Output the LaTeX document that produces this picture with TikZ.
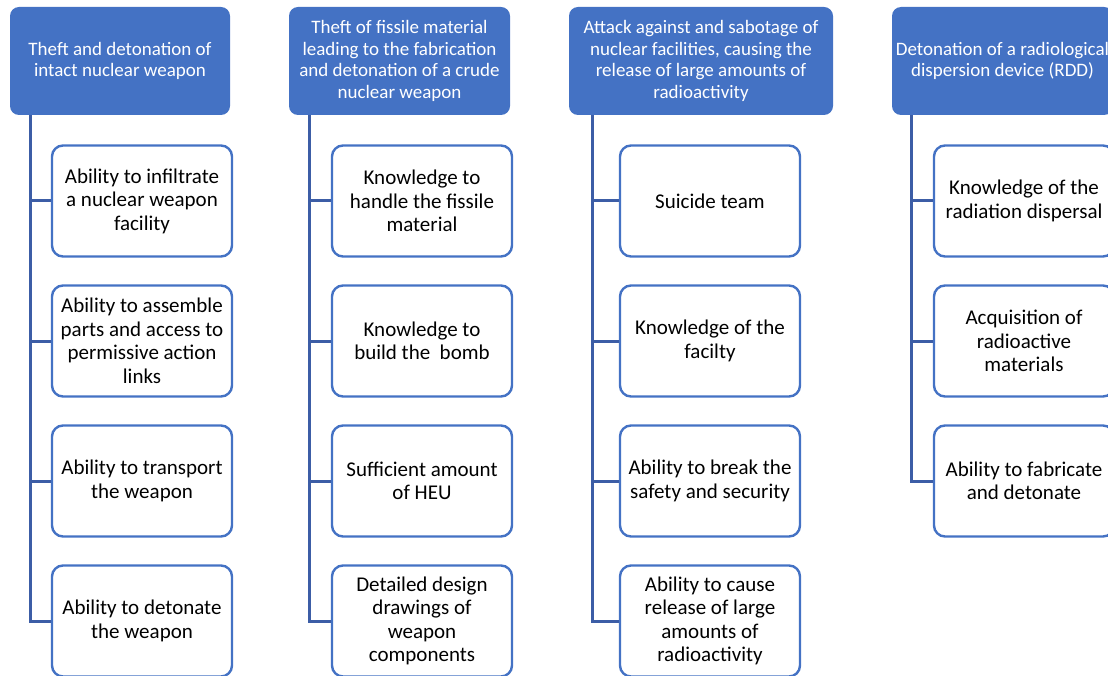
\documentclass[tikz,border=0pt]{standalone}
\usepackage{fontspec}
\setmainfont{Carlito}
\definecolor{hdrblue}{HTML}{4472C4}
\definecolor{boxblue}{HTML}{4472C4}
\definecolor{linkblue}{HTML}{3C5DA6}
\tikzset{
  hdr/.style={draw=none, fill=hdrblue, rounded corners=9pt, text=white, align=center,
    minimum height=108pt, inner sep=0pt, font=\fontsize{19}{21.7}\selectfont},
  item/.style={draw=boxblue, line width=2.4pt, fill=white, rounded corners=11pt, text=black, align=center,
    minimum width=180pt, minimum height=111pt, inner sep=0pt, font=\fontsize{21}{23.5}\selectfont},
  conn/.style={draw=linkblue, line width=3pt}
}
\begin{document}
\begin{tikzpicture}[x=1pt,y=-1pt]
\useasboundingbox (0,0) rectangle (1108,676);
\clip (0,0) rectangle (1108,676);
% headers
\node[hdr, minimum width=220pt] (h1) at (120,61) {Theft and detonation of\\intact nuclear weapon};
\node[hdr, minimum width=221pt] (h2) at (399.5,61) {Theft of fissile material\\leading to the fabrication\\and detonation of a crude\\nuclear weapon};
\node[hdr, minimum width=264pt] (h3) at (701,61) {Attack against and sabotage of\\nuclear facilities, causing the\\release of large amounts of\\radioactivity};
\node[hdr, minimum width=221pt] (h4) at (1002.5,61) {Detonation of a radiological\\dispersion device (RDD)};
% connector starts
\coordinate (s1) at ([xshift=21pt]h1.south west);
\coordinate (s2) at ([xshift=21pt]h2.south west);
\coordinate (s3) at ([xshift=24pt]h3.south west);
\coordinate (s4) at ([xshift=20pt]h4.south west);
% column 1
\node[item] (c11) at (142,201) {Ability to infiltrate\\a nuclear weapon\\facility};
\node[item] (c12) at (142,341) {Ability to assemble\\parts and access to\\permissive action\\links};
\node[item] (c13) at (142,481) {Ability to transport\\the weapon};
\node[item] (c14) at (142,621) {Ability to detonate\\the weapon};
% column 2
\node[item] (c21) at (422,201) {Knowledge to\\handle the fissile\\material};
\node[item] (c22) at (422,341) {Knowledge to\\build the\ \ bomb};
\node[item] (c23) at (422,481) {Sufficient amount\\of HEU};
\node[item] (c24) at (422,621) {Detailed design\\drawings of\\weapon\\components};
% column 3
\node[item] (c31) at (710,201) {Suicide team};
\node[item] (c32) at (710,341) {Knowledge of the\\facilty};
\node[item] (c33) at (710,481) {Ability to break the\\safety and security};
\node[item] (c34) at (710,621) {Ability to cause\\release of large\\amounts of\\radioactivity};
% column 4
\node[item] (c41) at (1024,201) {Knowledge of the\\radiation dispersal};
\node[item] (c42) at (1024,341) {Acquisition of\\radioactive\\materials};
\node[item] (c43) at (1024,481) {Ability to fabricate\\and detonate};
% connectors
\draw[conn] (s1) |- (c14.west);
\draw[conn] (s1 |- c11.west) -- (c11.west);
\draw[conn] (s1 |- c12.west) -- (c12.west);
\draw[conn] (s1 |- c13.west) -- (c13.west);
\draw[conn] (s2) |- (c24.west);
\draw[conn] (s2 |- c21.west) -- (c21.west);
\draw[conn] (s2 |- c22.west) -- (c22.west);
\draw[conn] (s2 |- c23.west) -- (c23.west);
\draw[conn] (s3) |- (c34.west);
\draw[conn] (s3 |- c31.west) -- (c31.west);
\draw[conn] (s3 |- c32.west) -- (c32.west);
\draw[conn] (s3 |- c33.west) -- (c33.west);
\draw[conn] (s4) |- (c43.west);
\draw[conn] (s4 |- c41.west) -- (c41.west);
\draw[conn] (s4 |- c42.west) -- (c42.west);
\end{tikzpicture}
\end{document}
